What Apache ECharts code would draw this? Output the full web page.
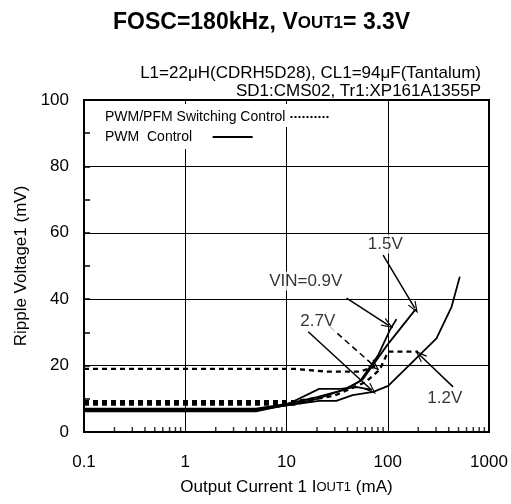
<!DOCTYPE html>
<html><head><meta charset="utf-8">
<script src="https://cdn.jsdelivr.net/npm/echarts@6/dist/echarts.min.js"></script>
<style>html,body{margin:0;padding:0;background:#fff}#c{width:511px;height:504px}</style>
</head><body><div id="c"></div>
<script>
// ---- data (mA, mV) ----
const xTickLabels = [0.1, 1, 10, 100, 1000];
const xMinorTicks = [0.2,0.3,0.4,0.5,0.6,0.7,0.8,0.9, 2,3,4,5,6,7,8,9, 20,30,40,50,60,70,80,90, 200,300,400,500,600,700,800,900];

// PWM control (solid)
const pwm09 = [[0.1,6.5],[5,6.5],[10,8],[20,10],[35,12.5],[53,15.2],[80,23],[105,30.7],[122,34]];
const pwm12 = [[0.1,6.8],[5,6.8],[10,8],[21,9.4],[31,9.4],[45,11.1],[72,12.1],[101,13.9],[207,23.2],[303,28.2],[427,37.7],[515,46.8]];
const pwm15 = [[0.1,7.0],[5,7.0],[10,8.5],[20,10.5],[40,13],[57,16],[100,26.4],[189,37]];
const pwm27 = [[0.1,6.2],[5,6.2],[10,8.2],[21,13],[34,13],[50,13.5],[70,12.7]];

// PWM/PFM switching control (dashed)
const pfm27 = [[0.1,19],[12,19],[25,18.2],[53,18.2],[75,19.7]];
const pfm12 = [[0.1,8.8],[12,8.8],[30,11],[60,15],[83,18.7],[101,24.2],[200,24.2]];
const pfm09 = [[0.1,9.3],[12,9.3],[20,10.2]];
const pfm15 = [[0.1,8.3],[12,8.3],[18,9.5]];

// annotations: [text, x, y]
const annoLabels = [['VIN=0.9V',15.5,45.5],['1.5V',94.6,56.6],['2.7V',20.4,33.3],['1.2V',366,10.2]];
// arrows: [x1, y1, x2, y2, style]
const annoArrows = [
  [39.2,40.3,101,32.2,'solid'],
  [90,53.3,185,37.3,'solid'],
  [16.4,30.2,69.2,12.65,'solid'],
  [26.8,31.7,74.6,19.7,'dashed'],
  [442,13.6,207,23.2,'solid']
];

const NAME_PFM = 'PWM/PFM Switching Control';
const NAME_PWM = 'PWM  Control';
const FONT = '"Liberation Sans", Arial, sans-serif';

function solid(d){ return {type:'line', name:NAME_PWM, data:d, symbol:'none', silent:true,
  lineStyle:{color:'#000', width:1.8}, z:3}; }
function dashed(d){ return {type:'line', name:NAME_PFM, data:d, symbol:'none', silent:true,
  lineStyle:{color:'#000', width:2.4, type:[5,4]}, z:3}; }

const chevron = 'path://M5,0 L10,10 L8.6,10 L5,2.8 L1.4,10 L0,10 Z';

const legendBase = {
  orient:'vertical', left:95, align:'right', itemWidth:40, itemHeight:10, selectedMode:false,
  backgroundColor:'#fff', z:5,
  textStyle:{fontSize:14, color:'#000', fontFamily:FONT},
  itemStyle:{color:'rgba(0,0,0,0)', borderWidth:0}
};

const option = {
  animation:false,
  textStyle:{fontFamily:FONT, color:'#000'},
  title:[
    {text:'{a|FOSC=180kHz, V}{b|OUT1}{a|= 3.3V}', left:108, top:6,
     textStyle:{rich:{a:{fontSize:23, fontWeight:'bold', fontFamily:FONT, color:'#000', verticalAlign:'bottom'},
                      b:{fontSize:17, fontWeight:'bold', fontFamily:FONT, color:'#000', verticalAlign:'bottom', padding:[0,0,2,0]}}}},
    {text:'L1=22μH(CDRH5D28), CL1=94μF(Tantalum)', right:25, top:60,
     textStyle:{fontSize:17, fontWeight:'normal', fontFamily:FONT, color:'#000'}},
    {text:'SD1:CMS02, Tr1:XP161A1355P', right:25, top:78,
     textStyle:{fontSize:17, fontWeight:'normal', fontFamily:FONT, color:'#000'}}
  ],
  legend:[
    Object.assign({}, legendBase, {top:104, padding:[6,8,3,10],
      data:[{name:NAME_PFM, lineStyle:{type:'dotted', width:2, color:'#000'}}]}),
    Object.assign({}, legendBase, {top:127, padding:[3,8,5,10],
      formatter:function(n){ return n+'    '; },
      data:[{name:NAME_PWM, lineStyle:{type:'solid', width:2, color:'#000'}}]})
  ],
  grid:{left:84, right:22, top:100, bottom:72, show:true, borderColor:'#000', borderWidth:2, containLabel:false},
  xAxis:{
    type:'log', logBase:10, min:0.1, max:1000,
    name:'{n|Output Current 1 I}{s|OUT1}{n| (mA)}', nameLocation:'middle', nameGap:47,
    nameTextStyle:{rich:{n:{fontSize:17, fontFamily:FONT, color:'#000', verticalAlign:'bottom'},
                         s:{fontSize:13, fontFamily:FONT, color:'#000', verticalAlign:'bottom', padding:[0,0,2,0]}}},
    axisLine:{lineStyle:{color:'#000', width:2}},
    axisTick:{show:false},
    axisLabel:{fontSize:17, color:'#000', margin:22, fontFamily:FONT,
      formatter:function(v){ return xTickLabels.indexOf(+v)>=0 ? String(v) : ''; }},
    splitLine:{show:true, lineStyle:{color:'#000', width:1}}
  },
  yAxis:{
    type:'value', min:0, max:100, interval:20,
    name:'Ripple Voltage1 (mV)', nameLocation:'middle', nameGap:52,
    nameTextStyle:{fontSize:17, color:'#000', fontFamily:FONT},
    axisLine:{show:true, lineStyle:{color:'#000', width:2}},
    axisTick:{show:true, inside:true, length:6, lineStyle:{color:'#000', width:1.5}},
    minorTick:{show:true, splitNumber:2, length:6, lineStyle:{color:'#000', width:1.5}},
    axisLabel:{fontSize:17, color:'#000', margin:15, fontFamily:FONT},
    splitLine:{show:true, lineStyle:{color:'#000', width:1}}
  },
  series:[
    solid(pwm27), solid(pwm09), solid(pwm12), solid(pwm15),
    dashed(pfm27), dashed(pfm12), dashed(pfm09), dashed(pfm15),
    {type:'scatter', name:'minor', data:xMinorTicks.map(v=>[v,0]), symbol:'rect',
     symbolSize:[1.5,5], symbolOffset:[0,-2.5], itemStyle:{color:'#000'}, silent:true, clip:false, z:4},
    {type:'scatter', name:'labels', silent:true, z:6, symbolSize:0, clip:false,
     data:annoLabels.map(a=>({name:a[0], value:[a[1],a[2]]})),
     label:{show:true, position:'inside', formatter:'{b}', fontSize:17, color:'#000', fontFamily:FONT,
            backgroundColor:'#fff', padding:[1,2]},
     markLine:{silent:true, symbol:['none', chevron], symbolSize:[9,12],
       label:{show:false}, lineStyle:{color:'#000', width:1.5, type:'solid'},
       emphasis:{disabled:true},
       data:annoArrows.map(a=>[
         {coord:[a[0],a[1]], lineStyle:{type: a[4]==='dashed' ? [6,4] : 'solid', color:'#000', width:1.5}},
         {coord:[a[2],a[3]]}
       ])}
    }
  ]
};
const chart = echarts.init(document.getElementById('c'), null, {renderer:'canvas'});
chart.setOption(option);
</script></body></html>
